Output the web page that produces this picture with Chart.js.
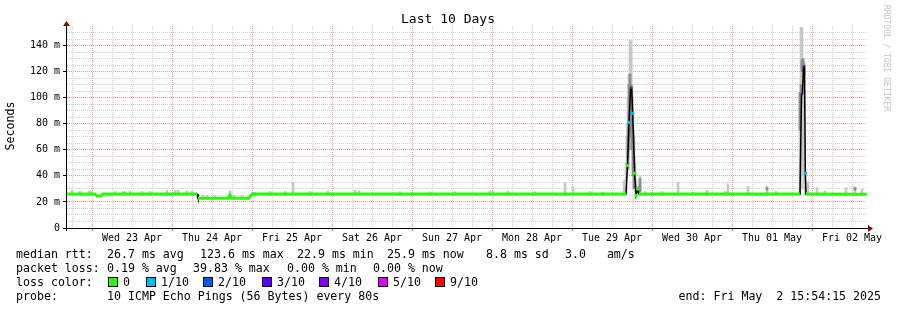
<!DOCTYPE html>
<html><head><meta charset="utf-8">
<script src="https://cdn.jsdelivr.net/npm/chart.js@4.4.1/dist/chart.umd.min.js"></script>
<style>html,body{margin:0;padding:0;background:#fff;overflow:hidden}canvas{display:block}</style>
</head><body><canvas id="c" width="897" height="310"></canvas>
<script>
// ---- data (x in hours since graph start, y in ms) ----
const titleText = 'Last 10 Days';
const yAxisTitle = 'Seconds';
const dayLabels = ['Wed 23 Apr','Thu 24 Apr','Fri 25 Apr','Sat 26 Apr','Sun 27 Apr','Mon 28 Apr','Tue 29 Apr','Wed 30 Apr','Thu 01 May','Fri 02 May'];
const firstMidnightHour = 7.5;
const totalHours = 240;

const medianHours = [0, 8.4, 9.0, 10.2, 10.8, 39.0, 39.3, 48.3, 48.9, 49.5, 54.6, 55.0, 55.5, 167.7, 168.15, 168.6, 169.1, 169.4, 169.7, 170.3, 170.7, 171.3, 171.6, 219.9, 220.35, 220.65, 220.95, 221.25, 221.5, 221.7, 240];
const medianMs    = [26.0, 26.0, 24.5, 24.5, 26.0, 26.0, 22.9, 22.9, 25.3, 22.9, 22.9, 24.5, 26.0, 26.0, 48, 81, 108, 108, 88, 42, 25, 30, 26.0, 26.0, 103, 103, 124, 124, 42, 26.0, 25.9];
const medianLoss  = [0, 0, 0, 0, 0, 0, 0, 0, 0, 0, 0, 0, 0, 0, 0, 1, 1, 1, 1, 0, 0, 0, 0, 0, 3, 3, 4, 4, 1, 0, 0];

const smokeHours = [1.5, 3.9, 6.6, 7.2, 14.4, 16.8, 17.4, 18.9, 22.5, 24.9, 30.0, 32.4, 33.3, 36.0, 37.5, 40.8, 42.0, 44.4, 48.9, 50.1, 52.5, 56.4, 60.9, 65.4, 67.8, 72.9, 78.3, 86.4, 87.6, 99.9, 108.9, 116.4, 126.9, 127.8, 132.3, 140.4, 149.4, 151.8, 156.9, 160.8, 167.1, 167.4, 167.7, 168.0, 168.3, 168.6, 168.9, 169.2, 169.5, 169.8, 170.1, 170.4, 170.7, 171.9, 173.4, 178.5, 183.3, 187.8, 192.0, 197.4, 198.3, 204.3, 210.0, 212.7, 219.9, 220.2, 220.5, 220.8, 221.1, 221.4, 222.3, 225.0, 227.4, 233.7, 236.4, 238.5];
const smokeLow   = [25, 25, 25, 25, 25, 25, 25, 25, 25, 25, 25, 25, 25, 25, 25, 22, 22, 22, 22, 22, 22, 25, 25, 25, 25, 25, 25, 25, 25, 25, 25, 25, 25, 25, 25, 25, 25, 25, 25, 25, 25, 25, 26, 40, 55, 70, 80, 85, 60, 45, 35, 28, 25, 25, 25, 25, 25, 25, 25, 25, 25, 25, 25, 25, 25, 30, 40, 60, 30, 25, 25, 25, 25, 25, 25, 25];
const smokeHigh  = [29, 28.2, 28.5, 28.5, 28, 28, 28, 28.3, 28, 28, 29, 29, 29, 28.3, 28.3, 25.4, 25, 24.8, 28.5, 24.8, 24.8, 27.5, 28, 28, 34.6, 28, 28.5, 28.8, 28.5, 27.8, 27.8, 28, 28.3, 28.3, 28.3, 28, 34.6, 31.5, 28, 27.5, 36, 37, 50, 70, 100, 118, 144, 143, 110, 90, 70, 50, 37, 40, 28, 28, 35, 27.6, 29, 28, 33.8, 32, 32.3, 28, 104, 154, 154, 130, 128, 45, 35.5, 31, 28.5, 31, 31.5, 30];

const coreHours = [168.3, 168.6, 168.9, 169.2, 169.5, 169.8, 170.1, 171.9, 210.0, 219.9, 220.2, 220.5, 220.8, 221.1, 236.4];
const coreLow   = [45, 60, 70, 75, 60, 40, 30, 28, 29, 75, 95, 120, 120, 118, 29];
const coreHigh  = [80, 110, 118, 110, 100, 75, 55, 38, 31, 104, 110, 129, 130, 126, 31];

const lossSteps  = [0, 1, 2, 3, 4, 5, 9];
const lossLabels = ['0', '1/10', '2/10', '3/10', '4/10', '5/10', '9/10'];
const lossColors = ['#26ff00', '#00b8ff', '#0059ff', '#5e00ff', '#7e00ff', '#dd00ff', '#ff0000'];

const rttTexts  = ['median rtt:', '26.7 ms avg', '123.6 ms max', '22.9 ms min', '25.9 ms now', '8.8 ms sd', '3.0   am/s'];
const lossTexts = ['packet loss:', '0.19 % avg', '39.83 % max', '0.00 % min', '0.00 % now'];
const lossTitle = 'loss color:';
const probeTexts = ['probe:', '10 ICMP Echo Pings (56 Bytes) every 80s'];
const endText   = 'end: Fri May  2 15:54:15 2025';
const watermark = 'RRDTOOL / TOBI OETIKER';

// ---- layout positions (pixels) ----
const rttX  = [16, 107, 200, 297, 387, 486, 565];
const lossX = [16, 107, 193, 287, 373];
const boxX  = [108, 146, 203, 262, 319, 378, 435];

function lossColor(n){ let c = lossColors[0]; for (let i=0;i<lossSteps.length;i++){ if (n>=lossSteps[i]) c = lossColors[i]; } return c; }
const FONT = '"DejaVu Sans Mono", monospace';
Chart.defaults.font.family = FONT;
Chart.defaults.color = '#000';

const xTicks = []; for (let h = firstMidnightHour - 6; h <= totalHours; h += 6) xTicks.push(h);
const yTicks = []; for (let v = 5; v <= 150; v += 5) yTicks.push(v);
const isMidnight = v => Math.abs(((v - firstMidnightHour) % 24 + 24) % 24) < 1e-6;
const isNoon = v => Math.abs(((v - firstMidnightHour - 12) % 24 + 24) % 24) < 1e-6;
const tv = c => (c && c.tick) ? c.tick.value : null;

const medianPts = medianHours.map((h,i)=>({x:h, y:medianMs[i]}));
function isolated(i){
  const y = medianMs[i];
  const a = i>0 ? Math.abs(y-medianMs[i-1]) : 0;
  const b = i<medianMs.length-1 ? Math.abs(y-medianMs[i+1]) : 0;
  return a>3 && b>3;
}
const MAJOR = '#f4a0a0', MINOR = '#d0d0d0', NONE = 'rgba(0,0,0,0)';

const decor = {
  id:'decor',
  afterDraw(chart){
    const ctx = chart.ctx, ca = chart.chartArea;
    ctx.save();
    ctx.strokeStyle = '#000'; ctx.lineWidth = 1;
    ctx.beginPath(); ctx.moveTo(ca.left-4, ca.bottom+0.5); ctx.lineTo(ca.right+2, ca.bottom+0.5); ctx.stroke();
    ctx.beginPath(); ctx.moveTo(ca.left-0.5, ca.bottom+3); ctx.lineTo(ca.left-0.5, ca.top-1); ctx.stroke();
    ctx.fillStyle = '#7f1010';
    ctx.beginPath(); ctx.moveTo(ca.right+1, ca.bottom-3); ctx.lineTo(ca.right+1, ca.bottom+4); ctx.lineTo(ca.right+6, ca.bottom+0.5); ctx.closePath(); ctx.fill();
    ctx.beginPath(); ctx.moveTo(ca.left-4, ca.top); ctx.lineTo(ca.left+3, ca.top); ctx.lineTo(ca.left-0.5, ca.top-5); ctx.closePath(); ctx.fill();
    ctx.fillStyle = '#000';
    ctx.font = '13px ' + FONT; ctx.textAlign = 'center'; ctx.textBaseline = 'middle';
    ctx.fillText(titleText, 448, 20);
    ctx.font = '11.6px ' + FONT;
    ctx.save(); ctx.translate(11, 126); ctx.rotate(-Math.PI/2); ctx.fillText(yAxisTitle, 0, 0); ctx.restore();
    ctx.save(); ctx.fillStyle = '#c4c4c4'; ctx.font = '8px ' + FONT; ctx.textAlign='left';
    ctx.translate(886, 5); ctx.rotate(Math.PI/2); ctx.fillText(watermark, 0, 0); ctx.restore();
    ctx.textAlign = 'left'; ctx.fillStyle = '#000'; ctx.font = '11.6px ' + FONT;
    rttTexts.forEach((t,i) => ctx.fillText(t, rttX[i], 254.5));
    lossTexts.forEach((t,i) => ctx.fillText(t, lossX[i], 268.5));
    ctx.fillText(lossTitle, 16, 282.5);
    ctx.fillText(probeTexts[0], 16, 296.5);
    ctx.fillText(probeTexts[1], 107, 296.5);
    ctx.textAlign = 'right'; ctx.fillText(endText, 881, 296.5);
    ctx.textAlign = 'left';
    for (let i=0;i<lossLabels.length;i++){
      ctx.fillStyle = lossColors[i]; ctx.fillRect(boxX[i], 277, 9, 10);
      ctx.strokeStyle = '#000'; ctx.strokeRect(boxX[i]+0.5, 277.5, 9, 9);
      ctx.fillStyle = '#000'; ctx.fillText(lossLabels[i], boxX[i]+15, 282.5);
    }
    ctx.restore();
  }
};

new Chart(document.getElementById('c'), {
  type: 'line',
  data: {
    datasets: [
      { type:'line', data: medianPts, order: 1, borderWidth: 3, borderColor: lossColors[0], borderCapStyle:'butt',
        segment: { borderColor: c => Math.abs(c.p1.parsed.y - c.p0.parsed.y) < 3 ? lossColor(medianLoss[c.p0DataIndex]) : NONE },
        pointStyle: 'rect', pointBorderWidth: 0,
        pointRadius: c => isolated(c.dataIndex) ? 2.2 : 0,
        pointBackgroundColor: c => lossColor(medianLoss[c.dataIndex]) },
      { type:'line', data: medianPts, order: 2, borderWidth: 1.5, borderColor: '#000', pointRadius: 0 },
      { type:'bar', data: coreHours.map((h,i)=>({x:h, y:[coreLow[i], coreHigh[i]]})), order: 3,
        backgroundColor: '#8c8c8c', barThickness: 2, grouped: false, borderWidth: 0 },
      { type:'bar', data: smokeHours.map((h,i)=>({x:h, y:[smokeLow[i], smokeHigh[i]]})), order: 4,
        backgroundColor: '#c8c8c8', barThickness: 2, grouped: false, borderWidth: 0 }
    ]
  },
  options: {
    responsive: false, animation: false, devicePixelRatio: 1,
    layout: { padding: { left: 0, top: 26, right: 30, bottom: 62 } },
    plugins: { legend: { display: false }, tooltip: { enabled: false }, title: { display: false } },
    scales: {
      x: {
        type: 'linear', min: 0, max: totalHours, offset: false,
        afterBuildTicks: s => { s.ticks = xTicks.map(v => ({value: v})); },
        afterFit: s => { s.height = 20; },
        ticks: { autoSkip: false, maxRotation: 0, padding: 1, font: { size: 10 }, color: '#000',
                 callback: v => isNoon(v) ? dayLabels[Math.round((v - firstMidnightHour - 12)/24)] : '' },
        grid: { offset: false, color: c => { const v = tv(c); return v === null ? NONE : (isMidnight(v) ? MAJOR : MINOR); },
                lineWidth: 1, tickLength: 3,
                tickColor: c => { const v = tv(c); return v !== null && isMidnight(v) ? '#f06060' : NONE; } },
        border: { display: false, dash: [1, 1] }
      },
      y: {
        type: 'linear', min: 0, max: 155,
        afterBuildTicks: s => { s.ticks = [{value: 0}].concat(yTicks.map(v => ({value: v}))); },
        afterFit: s => { s.width = 67; },
        ticks: { autoSkip: false, padding: 3, font: { size: 10 }, color: '#000',
                 callback: v => v % 20 === 0 ? (v === 0 ? '0' : v + ' m') : '' },
        grid: { offset: false, color: c => { const v = tv(c); return (v === null || v === 0) ? NONE : (v % 20 === 0 ? MAJOR : MINOR); },
                lineWidth: 1, tickLength: 4,
                tickColor: c => { const v = tv(c); return v !== null && v % 20 === 0 ? '#000' : NONE; } },
        border: { display: false, dash: [1, 1] }
      }
    }
  },
  plugins: [decor]
});
</script>
</body></html>
